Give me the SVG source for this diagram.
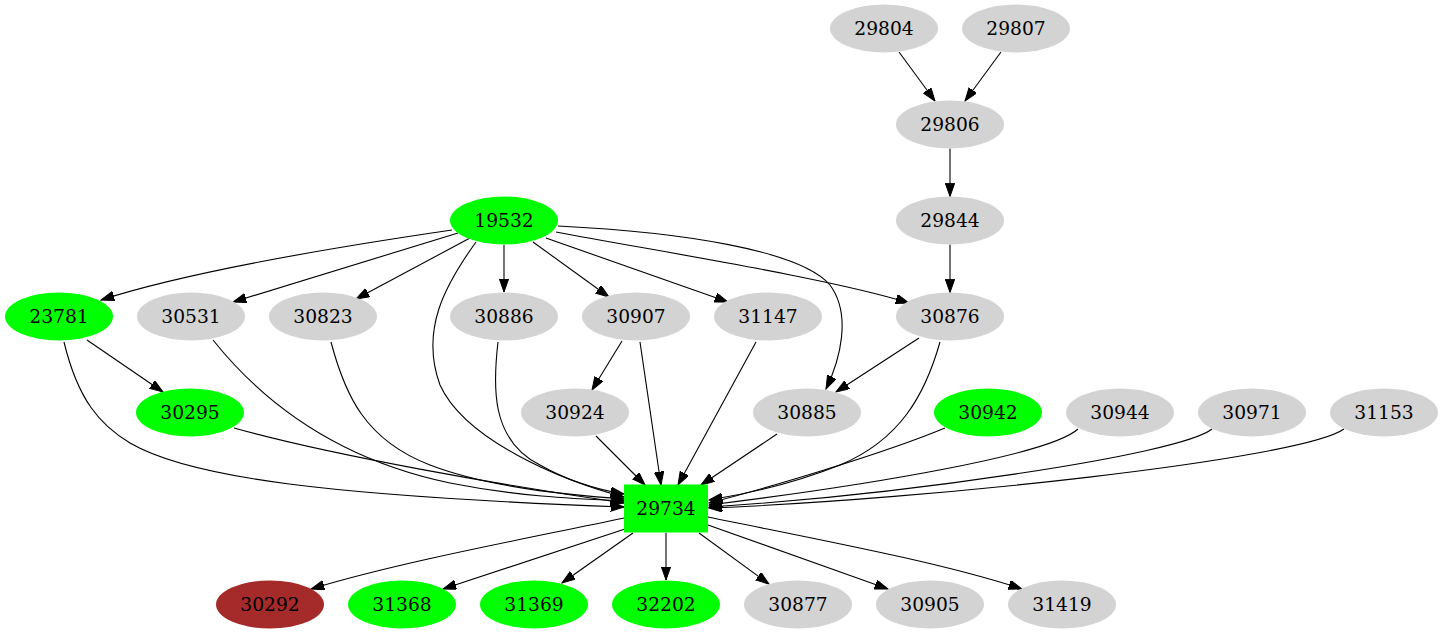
<svg xmlns="http://www.w3.org/2000/svg" width="1443" height="635" viewBox="0 0 1443 635">
<style>
.n{stroke:none}
.g{fill:#d3d3d3}
.gr{fill:#00ff00}
.br{fill:#a52a2a}
text{font-family:"DejaVu Serif","Liberation Serif",serif;font-size:18.67px;text-anchor:middle;fill:#000}
.e path{fill:none;stroke:#000;stroke-width:1.1;marker-end:url(#ah)}
</style>
<defs>
<marker id="ah" markerUnits="userSpaceOnUse" markerWidth="14" markerHeight="10" refX="13.3" refY="4.7" orient="auto">
<path d="M0,0 L13.3,4.7 L0,9.4 z" fill="#000" stroke="#000" stroke-width="1"/>
</marker>
</defs>
<rect width="1443" height="635" fill="#fff"/>
<g class="e" id="edges">
<path d="M899,52 L935,101"/>
<path d="M1001,52 L965,101"/>
<path d="M950,148.5 L950,196.5"/>
<path d="M950,244.5 L950,292.5"/>
<path d="M452,230 C370,242 200,268 101,300"/>
<path d="M458,233 L233,302"/>
<path d="M470,238 L356,299"/>
<path d="M476,242 C445,285 420,330 440,385 C465,440 560,480 624,497"/>
<path d="M504,245 L504,292"/>
<path d="M533,242 L609,297"/>
<path d="M546,238 L728,302"/>
<path d="M556,232 C650,250 830,278 909,303"/>
<path d="M558,226 C680,232 800,250 830,285 C852,315 840,360 826,389"/>
<path d="M87,340 L163,392"/>
<path d="M64,342 C78,400 100,425 130,443 C190,478 330,496 624,507"/>
<path d="M213,340 C265,405 340,460 450,483 C520,497 580,499 624,501"/>
<path d="M331,342 C345,395 365,440 430,465 C490,488 570,495 624,499"/>
<path d="M234,428 C330,455 500,485 624,503"/>
<path d="M498,342 C493,385 490,440 540,465 C570,482 600,490 624,494"/>
<path d="M622,341 L592,390"/>
<path d="M640,342 L661,485"/>
<path d="M596,436 L645,485"/>
<path d="M756,342 L678,485"/>
<path d="M919,338 L836,392"/>
<path d="M940,342 C925,395 900,440 840,465 C790,485 740,495 709,500"/>
<path d="M777,434 L701,485"/>
<path d="M945,428 C880,455 760,490 709,503"/>
<path d="M1078,429 C1050,455 870,485 709,505"/>
<path d="M1212,429 C1180,455 900,495 709,507"/>
<path d="M1344,429 C1300,460 920,500 709,508"/>
<path d="M624,518 C520,540 400,562 311,589"/>
<path d="M628,528 L443,589"/>
<path d="M633,533 L562,583"/>
<path d="M666,533 L666,580"/>
<path d="M699,533 L769,584"/>
<path d="M708,525 L888,589"/>
<path d="M708,517 C820,540 940,562 1022,589"/>
</g>
<g id="n29804"><ellipse class="n g" cx="884" cy="28.5" rx="54" ry="24"/><text x="884" y="35">29804</text></g>
<g id="n29807"><ellipse class="n g" cx="1016" cy="28.5" rx="54" ry="24"/><text x="1016" y="35">29807</text></g>
<g id="n29806"><ellipse class="n g" cx="950" cy="124.5" rx="54" ry="24"/><text x="950" y="131">29806</text></g>
<g id="n29844"><ellipse class="n g" cx="950" cy="220.5" rx="54" ry="24"/><text x="950" y="227">29844</text></g>
<g id="n19532"><ellipse class="n gr" cx="504" cy="220.5" rx="54" ry="24"/><text x="504" y="227">19532</text></g>
<g id="n23781"><ellipse class="n gr" cx="59" cy="316.5" rx="54" ry="24"/><text x="59" y="323">23781</text></g>
<g id="n30531"><ellipse class="n g" cx="191" cy="316.5" rx="54" ry="24"/><text x="191" y="323">30531</text></g>
<g id="n30823"><ellipse class="n g" cx="323" cy="316.5" rx="54" ry="24"/><text x="323" y="323">30823</text></g>
<g id="n30886"><ellipse class="n g" cx="504" cy="316.5" rx="54" ry="24"/><text x="504" y="323">30886</text></g>
<g id="n30907"><ellipse class="n g" cx="636" cy="316.5" rx="54" ry="24"/><text x="636" y="323">30907</text></g>
<g id="n31147"><ellipse class="n g" cx="768" cy="316.5" rx="54" ry="24"/><text x="768" y="323">31147</text></g>
<g id="n30876"><ellipse class="n g" cx="950" cy="316.5" rx="54" ry="24"/><text x="950" y="323">30876</text></g>
<g id="n30295"><ellipse class="n gr" cx="190" cy="412.5" rx="54" ry="24"/><text x="190" y="419">30295</text></g>
<g id="n30924"><ellipse class="n g" cx="575" cy="412.5" rx="54" ry="24"/><text x="575" y="419">30924</text></g>
<g id="n30885"><ellipse class="n g" cx="807" cy="412.5" rx="54" ry="24"/><text x="807" y="419">30885</text></g>
<g id="n30942"><ellipse class="n gr" cx="988" cy="412.5" rx="54" ry="24"/><text x="988" y="419">30942</text></g>
<g id="n30944"><ellipse class="n g" cx="1120" cy="412.5" rx="54" ry="24"/><text x="1120" y="419">30944</text></g>
<g id="n30971"><ellipse class="n g" cx="1252" cy="412.5" rx="54" ry="24"/><text x="1252" y="419">30971</text></g>
<g id="n31153"><ellipse class="n g" cx="1384" cy="412.5" rx="54" ry="24"/><text x="1384" y="419">31153</text></g>
<g id="n29734"><rect class="n gr" x="624" y="484.5" width="84" height="48"/><text x="666" y="515">29734</text></g>
<g id="n30292"><ellipse class="n br" cx="270" cy="604.5" rx="54" ry="24"/><text x="270" y="611">30292</text></g>
<g id="n31368"><ellipse class="n gr" cx="402" cy="604.5" rx="54" ry="24"/><text x="402" y="611">31368</text></g>
<g id="n31369"><ellipse class="n gr" cx="534" cy="604.5" rx="54" ry="24"/><text x="534" y="611">31369</text></g>
<g id="n32202"><ellipse class="n gr" cx="666" cy="604.5" rx="54" ry="24"/><text x="666" y="611">32202</text></g>
<g id="n30877"><ellipse class="n g" cx="798" cy="604.5" rx="54" ry="24"/><text x="798" y="611">30877</text></g>
<g id="n30905"><ellipse class="n g" cx="930" cy="604.5" rx="54" ry="24"/><text x="930" y="611">30905</text></g>
<g id="n31419"><ellipse class="n g" cx="1062" cy="604.5" rx="54" ry="24"/><text x="1062" y="611">31419</text></g>
</svg>
